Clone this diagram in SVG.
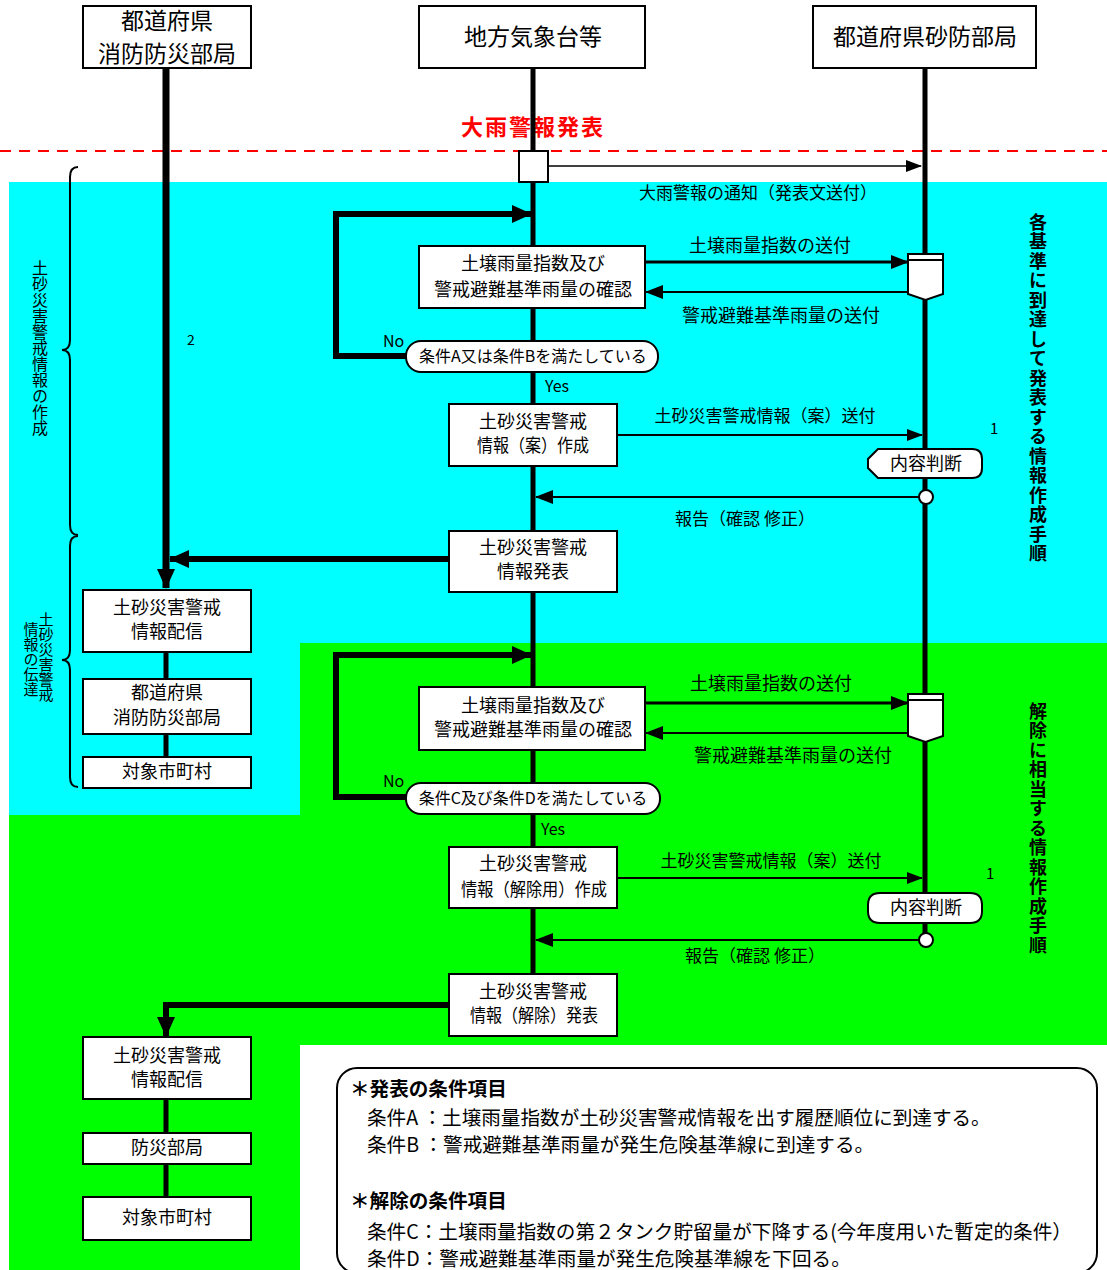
<svg xmlns="http://www.w3.org/2000/svg" width="1107" height="1270" viewBox="0 0 1107 1270">
<style>
text{font-family:"Noto Sans CJK JP","Noto Sans",sans-serif;fill:#000}
.box{fill:#fff;stroke:#000;stroke-width:2}
.t18{font-size:18px;text-anchor:middle}
.t17{font-size:17px;text-anchor:middle}
.t16{font-size:16px}
.t24{font-size:23px;text-anchor:middle}
.vl{font-size:16px;writing-mode:vertical-rl;text-orientation:upright}
.vr{font-size:18px;font-weight:bold;writing-mode:vertical-rl;text-orientation:upright;letter-spacing:1.5px}
.lg{font-size:19.6px}
.thick{fill:none;stroke:#000;stroke-width:6}
.thin{fill:none;stroke:#000;stroke-width:2}
</style>
<defs>
<marker id="big" markerWidth="20" markerHeight="18" refX="19" refY="9" orient="auto" markerUnits="userSpaceOnUse"><path d="M0,0 L20,9 L0,18 z" fill="#000"/></marker>
<marker id="mid" markerWidth="18" markerHeight="14" refX="17" refY="7" orient="auto" markerUnits="userSpaceOnUse"><path d="M0,0 L18,7 L0,14 z" fill="#000"/></marker>
<marker id="sm" markerWidth="16" markerHeight="12" refX="15" refY="6" orient="auto" markerUnits="userSpaceOnUse"><path d="M0,0 L16,6 L0,12 z" fill="#000"/></marker>
</defs>

<!-- backgrounds -->
<rect x="9" y="643" width="1098" height="627" fill="#00ff00"/>
<rect x="300" y="1045" width="807" height="225" fill="#fff"/>
<rect x="9" y="182" width="1098" height="461" fill="#00ffff"/>
<rect x="9" y="643" width="291" height="172" fill="#00ffff"/>

<!-- red dashed line and label -->
<line x1="0" y1="151" x2="1107" y2="151" stroke="#ff0000" stroke-width="2" stroke-dasharray="11,8"/>
<text x="533" y="135" style="font-size:22px;font-weight:bold;fill:#ff0000;text-anchor:middle;letter-spacing:2px">大雨警報発表</text>

<!-- braces -->
<g id="braces">
<path class="thin" d="M78,167 Q70,167 70,177 V340 Q70,350 62,350 Q70,350 70,360 V525 Q70,535 78,535"/>
<path class="thin" d="M78,536 Q70,536 70,546 V650 Q70,660 62,660 Q70,660 70,670 V777 Q70,787 78,787"/>
<text class="vl" x="40" y="260">土砂災害警戒情報の作成</text>
<text class="vl" x="46" y="612" style="font-size:15px">土砂災害警戒</text>
<text class="vl" x="31" y="622" style="font-size:15px">情報の伝達</text>
</g>

<!-- side titles -->
<text class="vr" x="1038" y="213">各基準に到達して発表する情報作成手順</text>
<text class="vr" x="1038" y="702">解除に相当する情報作成手順</text>

<!-- connectors -->
<g id="connectors">
<line x1="533" y1="68" x2="533" y2="974" stroke="#000" stroke-width="5"/>
<line x1="925" y1="68" x2="925" y2="934" stroke="#000" stroke-width="5"/>
<path d="M166,68 V588" stroke="#000" stroke-width="7" fill="none" marker-end="url(#big)"/>
<path class="thick" d="M449,559 H170" marker-end="url(#big)"/>
<line x1="548" y1="166" x2="921" y2="166" stroke="#000" stroke-width="1.5" marker-end="url(#sm)"/>
<path class="thick" d="M406,356 H336 V214 H531" stroke-width="5" marker-end="url(#big)"/>
<path d="M645,262 H908" stroke="#000" stroke-width="3" marker-end="url(#mid)"/>
<path class="thin" d="M908,292 H646" marker-end="url(#mid)"/>
<path class="thin" d="M617,435 H922" marker-end="url(#sm)"/>
<path class="thin" d="M919,497 H536" marker-end="url(#mid)"/>
<path d="M166,652 V679 M166,734 V757" stroke="#000" stroke-width="5"/>

<path class="thick" d="M406,797 H336 V655 H531" stroke-width="5" marker-end="url(#big)"/>
<path d="M645,703 H908" stroke="#000" stroke-width="3" marker-end="url(#mid)"/>
<path class="thin" d="M908,733 H646" marker-end="url(#mid)"/>
<path class="thin" d="M617,878 H922" marker-end="url(#sm)"/>
<path class="thin" d="M919,940 H536" marker-end="url(#mid)"/>
<path class="thick" d="M449,1005 H166 V1036" marker-end="url(#big)"/>
<path d="M166,1099 V1133 M166,1164 V1197" stroke="#000" stroke-width="5"/>

<text class="t17" x="758" y="199">大雨警報の通知（発表文送付）</text>
<text class="t18" x="770" y="252">土壌雨量指数の送付</text>
<text class="t18" x="781" y="322">警戒避難基準雨量の送付</text>
<text class="t17" x="765" y="422">土砂災害警戒情報（案）送付</text>
<text class="t17" x="745" y="525">報告（確認 修正）</text>
<text class="t18" x="771" y="690">土壌雨量指数の送付</text>
<text class="t18" x="793" y="762">警戒避難基準雨量の送付</text>
<text class="t17" x="771" y="867">土砂災害警戒情報（案）送付</text>
<text class="t17" x="755" y="962">報告（確認 修正）</text>
<text class="t16" x="383" y="347">No</text>
<text class="t16" x="545" y="392">Yes</text>
<text class="t16" x="383" y="787">No</text>
<text class="t16" x="541" y="835">Yes</text>
<text x="187" y="345" style="font-size:14px">2</text>
<text x="990" y="434" style="font-size:15px">1</text>
<text x="986" y="879" style="font-size:15px">1</text>
</g>

<!-- header nodes -->
<g id="h-left"><rect class="box" x="83" y="6" width="168" height="62"/><text class="t24" x="167" y="29">都道府県</text><text class="t24" x="167" y="62">消防防災部局</text></g>
<g id="h-mid"><rect class="box" x="419" y="6" width="226" height="62"/><text class="t24" x="533" y="45">地方気象台等</text></g>
<g id="h-right"><rect class="box" x="813" y="6" width="223" height="62"/><text class="t24" x="925" y="45">都道府県砂防部局</text></g>

<g id="start"><rect class="box" x="519" y="151" width="29" height="31"/></g>

<!-- cyan section nodes -->
<g id="check1"><rect class="box" x="419" y="246" width="226" height="62"/><text class="t18" x="533" y="270">土壌雨量指数及び</text><text class="t18" x="533" y="296">警戒避難基準雨量の確認</text></g>
<g id="doc1"><path class="box" d="M908,254 H943 V294 L925.5,300 L908,294 Z"/><line x1="908" y1="260" x2="943" y2="260" stroke="#000" stroke-width="2"/></g>
<g id="cond1"><rect class="box" x="406" y="341" width="252" height="31" rx="15"/><text class="t16" x="533" y="362" text-anchor="middle">条件A又は条件Bを満たしている</text></g>
<g id="draft1"><rect class="box" x="449" y="404" width="168" height="62"/><text class="t18" x="533" y="428">土砂災害警戒</text><text class="t18" x="533" y="452" textLength="112" lengthAdjust="spacingAndGlyphs">情報（案）作成</text></g>
<g id="judge1"><path class="box" d="M878,449 H972 Q982,449 982,459 V468 Q982,478 972,478 H878 L868,468 V459 Z"/><text class="t18" x="926" y="470">内容判断</text></g>
<g id="dot1"><circle class="box" cx="926" cy="497" r="7"/></g>
<g id="issue1"><rect class="box" x="449" y="531" width="168" height="61"/><text class="t18" x="533" y="554">土砂災害警戒</text><text class="t18" x="533" y="578">情報発表</text></g>
<g id="dist1"><rect class="box" x="83" y="590" width="168" height="62"/><text class="t18" x="167" y="614">土砂災害警戒</text><text class="t18" x="167" y="638">情報配信</text></g>
<g id="pref1"><rect class="box" x="83" y="679" width="168" height="55"/><text class="t18" x="167" y="699">都道府県</text><text class="t18" x="167" y="724">消防防災部局</text></g>
<g id="muni1"><rect class="box" x="83" y="757" width="168" height="31"/><text class="t18" x="167" y="778">対象市町村</text></g>

<!-- green section nodes -->
<g id="check2"><rect class="box" x="419" y="687" width="226" height="63"/><text class="t18" x="533" y="712">土壌雨量指数及び</text><text class="t18" x="533" y="736">警戒避難基準雨量の確認</text></g>
<g id="doc2"><path class="box" d="M908,694 H943 V736 L925.5,742 L908,736 Z"/><line x1="908" y1="700" x2="943" y2="700" stroke="#000" stroke-width="2"/></g>
<g id="cond2"><rect class="box" x="406" y="783" width="254" height="31" rx="15"/><text class="t16" x="533" y="804" text-anchor="middle">条件C及び条件Dを満たしている</text></g>
<g id="draft2"><rect class="box" x="449" y="847" width="168" height="61"/><text class="t18" x="533" y="870">土砂災害警戒</text><text class="t18" x="534" y="896" textLength="146" lengthAdjust="spacingAndGlyphs">情報（解除用）作成</text></g>
<g id="judge2"><path class="box" d="M880,893 H970 Q982,893 982,905 V911 Q982,923 970,923 H880 Q868,923 868,911 V905 Q868,893 880,893 Z"/><text class="t18" x="926" y="914">内容判断</text></g>
<g id="dot2"><circle class="box" cx="926" cy="940" r="7"/></g>
<g id="issue2"><rect class="box" x="449" y="974" width="168" height="62"/><text class="t18" x="533" y="998">土砂災害警戒</text><text class="t18" x="534" y="1022" textLength="128" lengthAdjust="spacingAndGlyphs">情報（解除）発表</text></g>
<g id="dist2"><rect class="box" x="83" y="1037" width="168" height="62"/><text class="t18" x="167" y="1062">土砂災害警戒</text><text class="t18" x="167" y="1086">情報配信</text></g>
<g id="bousai"><rect class="box" x="83" y="1133" width="168" height="31"/><text class="t18" x="167" y="1154">防災部局</text></g>
<g id="muni2"><rect class="box" x="83" y="1197" width="168" height="43"/><text class="t18" x="167" y="1224">対象市町村</text></g>

<!-- legend -->
<g id="legend">
<rect x="337" y="1068" width="760" height="205" rx="20" fill="#fff" stroke="#000" stroke-width="2"/>
<text class="lg" x="350" y="1096" font-weight="bold">＊発表の条件項目</text>
<text class="lg" x="367" y="1125">条件A ：土壌雨量指数が土砂災害警戒情報を出す履歴順位に到達する。</text>
<text class="lg" x="367" y="1152">条件B ：警戒避難基準雨量が発生危険基準線に到達する。</text>
<text class="lg" x="350" y="1208" font-weight="bold">＊解除の条件項目</text>
<text class="lg" x="367" y="1239">条件C：土壌雨量指数の第２タンク貯留量が下降する(今年度用いた暫定的条件）</text>
<text class="lg" x="367" y="1266">条件D：警戒避難基準雨量が発生危険基準線を下回る。</text>
</g>
</svg>
